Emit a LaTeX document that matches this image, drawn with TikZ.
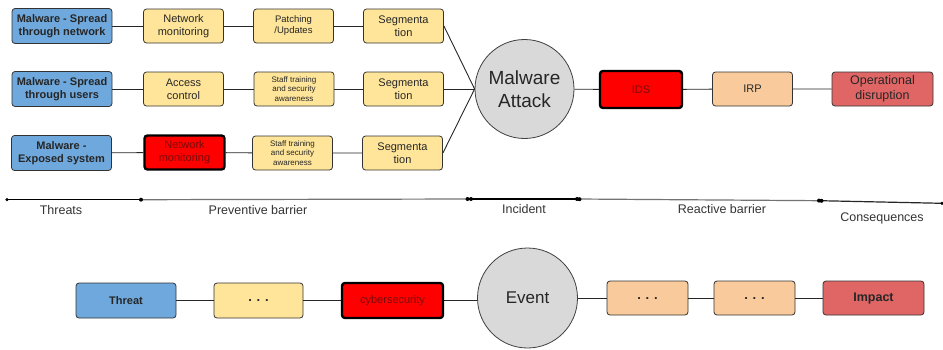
\documentclass[tikz,border=0pt]{standalone}
\usepackage{fontspec}
\setmainfont{Liberation Sans}
\begin{document}
\begin{tikzpicture}[x=1pt,y=-1pt,
  box/.style={draw=black!80, line width=0.8pt, rounded corners=3pt, inner sep=0pt,
    align=center, text=black!85, font=\fontsize{11}{13}\selectfont},
  threat/.style={box, fill=threatblue, minimum width=100pt, minimum height=35pt,
    font=\fontsize{11}{13}\selectfont\bfseries},
  barrier/.style={box, fill=barrieryellow, minimum width=80pt, minimum height=34pt},
  reactive/.style={box, fill=reactiveorange, minimum width=80pt, minimum height=34pt},
  alert/.style={box, fill=red, draw=black, line width=2.4pt, text=alerttext},
  impact/.style={box, fill=impactred, minimum width=101pt, minimum height=34pt},
  smalltext/.style={font=\fontsize{8}{9.5}\selectfont},
  hub/.style={circle, draw=black!75, line width=0.8pt, fill=black!15, inner sep=0pt,
    minimum size=99pt, align=center, text=black!85},
  link/.style={draw=black!85, line width=0.9pt},
  stage/.style={font=\fontsize{12.5}{14}\selectfont, text=black!80},
  tick/.style={circle, fill=black, inner sep=0pt, minimum size=4pt}]

\definecolor{threatblue}{HTML}{6FA8DC}
\definecolor{barrieryellow}{HTML}{FFE599}
\definecolor{reactiveorange}{HTML}{F9CB9C}
\definecolor{impactred}{HTML}{E06666}
\definecolor{alerttext}{HTML}{7A0A0A}

\useasboundingbox (0,0) rectangle (943,349);

% ---- upper bow-tie: three threat lines ----
\node[threat] (t1) at (62,26) {Malware - Spread\\through network};
\node[barrier] (b11) at (183.5,26) {Network\\monitoring};
\node[barrier, font=\fontsize{9.5}{11}\selectfont] (b12) at (293.5,26) {Patching\\/Updates};
\node[barrier] (b13) at (403.5,26) {Segmenta\\tion};

\node[threat] (t2) at (62,89) {Malware - Spread\\through users};
\node[barrier] (b21) at (183.5,89) {Access\\control};
\node[barrier, smalltext] (b22) at (294,89) {Staff training\\and security\\awareness};
\node[barrier] (b23) at (403.5,89) {Segmenta\\tion};

\node[threat] (t3) at (61.5,153) {Malware -\\Exposed system};
\node[barrier, alert] (b31) at (184.5,152.5) {Network\\monitoring};
\node[barrier, smalltext] (b32) at (292.5,153) {Staff training\\and security\\awareness};
\node[barrier] (b33) at (402.5,153) {Segmenta\\tion};

\node[hub, font=\fontsize{19}{23}\selectfont] (mal) at (524.5,89) {Malware\\Attack};

\node[reactive, alert, minimum width=82pt, minimum height=37pt] (ids) at (641,89.5) {IDS};
\node[reactive] (irp) at (752.5,89) {IRP};
\node[impact, font=\fontsize{12.5}{15.5}\selectfont] (od) at (882.5,89) {Operational\\disruption};

\draw[link] (t1) -- (b11) -- (b12) -- (b13);
\draw[link] (t2) -- (b21) -- (b22) -- (b23);
\draw[link] (t3) -- (b31) -- (b32) -- (b33);
\draw[link] (b13.east) -- (mal.west);
\draw[link] (b23.east) -- (mal.west);
\draw[link] (b33.east) -- (mal.west);
\draw[link] (mal) -- (ids) -- (irp) -- (od);

% ---- stage axis ----
\coordinate (p0) at (7,199.7);
\coordinate (p1) at (141,199.7);
\coordinate (p2) at (469,199);
\coordinate (p3) at (578,199);
\coordinate (p4) at (820,200.7);
\coordinate (p5) at (942,203.3);
\draw[line width=1.2pt, black] (p0) -- (p1);
\draw[line width=1.2pt, black!55] (p1) -- (p2);
\draw[line width=1.2pt, black] (p2) -- (p3);
\draw[line width=1.2pt, black!55] (p3) -- (p4);
\draw[line width=1.2pt, black!85] (p4) -- (p5);
\node[tick, minimum size=3.5pt] (d0) at (p0) {};
\node[tick] (d1) at (p1) {};
\node[tick] (d2a) at (467.5,199) {};
\node[tick] (d2b) at (471,199) {};
\node[tick] (d3a) at (577,199) {};
\node[tick] (d3b) at (579.5,199.2) {};
\node[tick] (d4a) at (819,200.6) {};
\node[tick] (d4b) at (821.5,200.8) {};
\node[tick, minimum size=3.5pt] (d5) at (p5) {};

\node[stage] (s1) at (61,210) {Threats};
\node[stage] (s2) at (258,210) {Preventive barrier};
\node[stage] (s3) at (524,209.5) {Incident};
\node[stage] (s4) at (722,209.5) {Reactive barrier};
\node[stage] (s5) at (882,218) {Consequences};

% ---- generic bow-tie ----
\node[threat] (gt) at (126,300.5) {Threat};
\node[barrier, minimum width=89pt, minimum height=35pt, font=\fontsize{13}{14}\selectfont] (gb) at (258.5,300.5) {\raisebox{-2pt}{\textbf{. . .}}};
\node[barrier, alert, minimum width=101pt, minimum height=35pt] (gc) at (392.5,300.5) {cybersecurity};
\node[hub, minimum size=100pt, font=\fontsize{17}{20}\selectfont] (ev) at (527.5,298) {Event};
\node[reactive, minimum width=81pt, font=\fontsize{13}{14}\selectfont] (gr1) at (647.5,298) {\raisebox{-2pt}{\textbf{. . .}}};
\node[reactive, minimum width=81pt, font=\fontsize{13}{14}\selectfont] (gr2) at (754.5,298) {\raisebox{-2pt}{\textbf{. . .}}};
\node[impact, font=\fontsize{12.5}{14}\selectfont\bfseries] (gi) at (873.5,298) {Impact};

\draw[link] (gt) -- (gb) -- (gc);
\draw[link] (gc.east) -- (ev.west |- gc.east);
\draw[link] (ev.east |- gr1.west) -- (gr1) -- (gr2) -- (gi);

\end{tikzpicture}
\end{document}
